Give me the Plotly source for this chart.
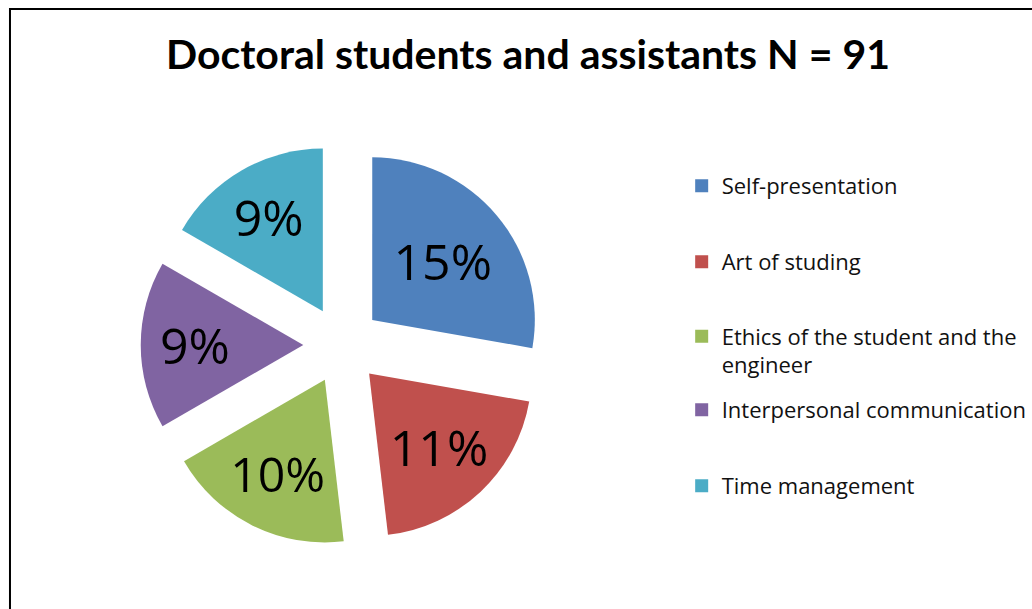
import plotly.graph_objects as go

title_text = "Doctoral students and assistants N = 91"
categories = ["Self-presentation", "Art of studing", "Ethics of the student and the<br>engineer",
              "Interpersonal communication", "Time management"]
values = [15, 11, 10, 9, 9]
colors = ["#4F81BD", "#C0504D", "#9BBB59", "#8064A2", "#4BACC6"]

W, H = 1032, 609
fig = go.Figure()

fig.add_trace(go.Pie(
    labels=categories, values=values, sort=False, direction="clockwise", rotation=0,
    marker=dict(colors=colors, line=dict(width=0)),
    pull=[0.24] * len(values),
    texttemplate="%{value}%", textposition="inside", insidetextorientation="horizontal",
    insidetextfont=dict(family="Open Sans", size=50, color="black"),
    domain=dict(x=[141 / W, 545 / W], y=[62 / H, 466 / H]),
    showlegend=False, hoverinfo="label+value",
))

legend_centers = [186, 262, 351, 410, 486]
layout_legends = {}
for i, (cat, col) in enumerate(zip(categories, colors)):
    lname = "legend" if i == 0 else f"legend{i + 1}"
    fig.add_trace(go.Scatter(
        x=[None], y=[None], mode="markers", name=cat,
        marker=dict(symbol="square", size=13, color=col),
        legend=lname, showlegend=True,
    ))
    layout_legends[lname] = dict(
        x=683 / W, xanchor="left", y=1 - legend_centers[i] / H, yanchor="middle",
        valign="top", bgcolor="rgba(0,0,0,0)",
        font=dict(family="Open Sans", size=22, color="#111111"),
        itemclick=False, itemdoubleclick=False,
    )

fig.update_layout(
    width=W, height=H,
    margin=dict(l=0, r=0, t=0, b=0),
    paper_bgcolor="white", plot_bgcolor="white",
    title=dict(text=f"<b>{title_text}</b>", x=528 / W, xanchor="center",
               y=1 - 55 / H, yanchor="middle",
               font=dict(family="Lato", size=41, color="black")),
    xaxis=dict(visible=False), yaxis=dict(visible=False),
    shapes=[dict(type="rect", xref="paper", yref="paper",
                 x0=10 / W, x1=1.05, y0=-0.05, y1=1 - 9 / H,
                 line=dict(color="black", width=2), fillcolor="rgba(0,0,0,0)")],
    **layout_legends,
)

fig.write_html("out.html")
